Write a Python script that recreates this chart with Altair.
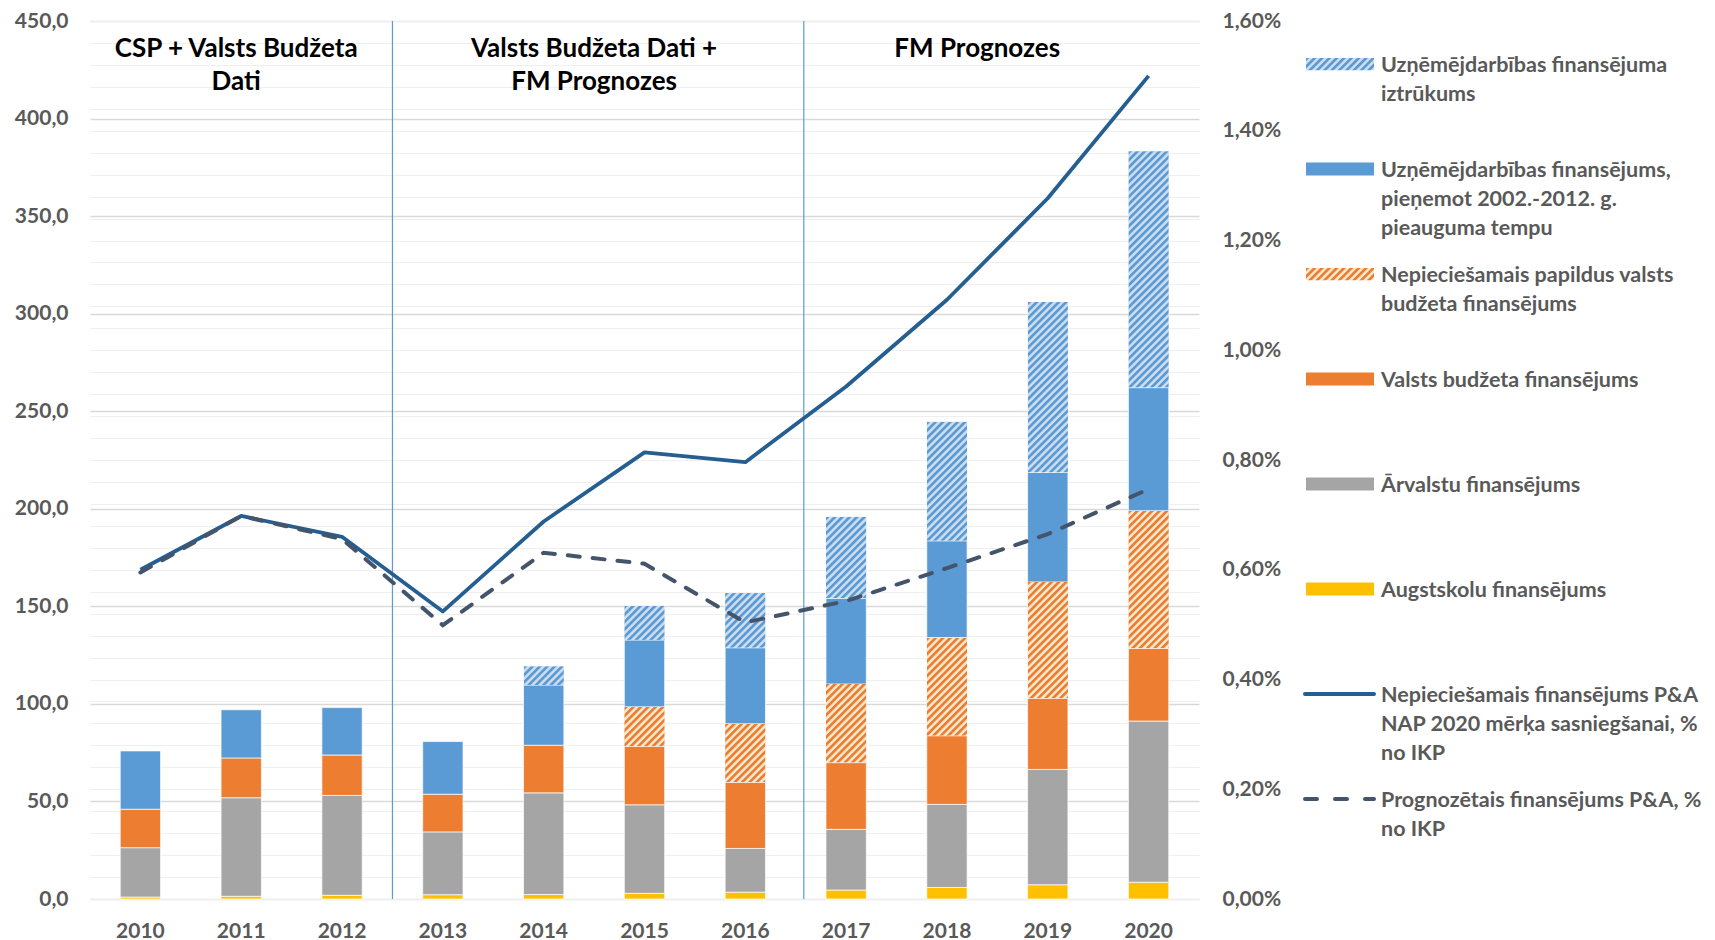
import base64
import altair as alt
import pandas as pd

# ---------------- data ----------------
years = ["2010", "2011", "2012", "2013", "2014", "2015", "2016", "2017", "2018", "2019", "2020"]

augstskolu = [1.0, 1.4, 1.9, 2.2, 2.3, 2.9, 3.5, 4.6, 5.9, 7.3, 8.6]
arvalstu = [25.3, 50.5, 51.2, 32.2, 52.1, 45.4, 22.4, 31.1, 42.6, 59.1, 82.6]
valsts = [19.7, 20.4, 20.7, 19.3, 24.4, 29.9, 33.9, 34.2, 35.2, 36.5, 37.3]
papildus = [0, 0, 0, 0, 0, 20.3, 30.0, 40.3, 50.3, 59.6, 70.5]
uznemejdarbiba = [29.9, 24.7, 24.3, 27.0, 30.9, 34.3, 39.0, 43.9, 49.6, 56.1, 63.1]
iztrukums = [0, 0, 0, 0, 9.6, 17.6, 28.0, 41.8, 61.1, 87.4, 121.2]

nepieciesamais_pct = [0.600, 0.698, 0.660, 0.524, 0.688, 0.814, 0.796, 0.934, 1.092, 1.277, 1.500]
prognozetais_pct = [0.595, 0.698, 0.656, 0.499, 0.631, 0.611, 0.504, 0.543, 0.603, 0.665, 0.747]

bar_series = [
    "Augstskolu finansējums",
    "Ārvalstu finansējums",
    "Valsts budžeta finansējums",
    "Nepieciešamais papildus valsts budžeta finansējums",
    "Uzņēmējdarbības finansējums, pieņemot 2002.-2012. g. pieauguma tempu",
    "Uzņēmējdarbības finansējuma iztrūkums",
]
bar_values = [augstskolu, arvalstu, valsts, papildus, uznemejdarbiba, iztrukums]
line_series = [
    "Nepieciešamais finansējums P&A NAP 2020 mērķa sasniegšanai, % no IKP",
    "Prognozētais finansējums P&A, % no IKP",
]

legend_series = [bar_series[5], bar_series[4], bar_series[3], bar_series[2],
                 bar_series[1], bar_series[0], line_series[0], line_series[1]]
legend_labels = [
    "Uzņēmējdarbības finansējuma\niztrūkums",
    "Uzņēmējdarbības finansējums,\npieņemot 2002.-2012. g.\npieauguma tempu",
    "Nepieciešamais papildus valsts\nbudžeta finansējums",
    "Valsts budžeta finansējums",
    "Ārvalstu finansējums",
    "Augstskolu finansējums",
    "Nepieciešamais finansējums P&A\nNAP 2020 mērķa sasniegšanai, %\nno IKP",
    "Prognozētais finansējums P&A, %\nno IKP",
]
legend_kinds = ["hatch", "solid", "hatch", "solid", "solid", "solid", "line", "dash"]

section_labels = ["CSP + Valsts Budžeta\nDati", "Valsts Budžeta Dati +\nFM Prognozes", "FM Prognozes"]
section_years = ["2011", "2015", "2018"]
separator_years = ["2013", "2017"]

# ---------------- styles ----------------
bar_colors = ["#ffc000", "#a5a5a5", "#ed7d31", "#f4b183", "#5b9bd5", "#a9c8e8"]
FONT = "Lato"
LABEL_COLOR = "#595959"
AXIS_FS = 21


def hatch_uri(dark, light):
    svg = (
        "<svg xmlns='http://www.w3.org/2000/svg' width='100%' height='100%'>"
        "<defs><pattern id='h' width='5.2' height='5.2' patternUnits='userSpaceOnUse' "
        "patternTransform='rotate(45)'>"
        f"<rect width='5.2' height='5.2' fill='{light}'/>"
        f"<rect width='2.7' height='5.2' fill='{dark}'/>"
        "</pattern></defs><rect width='100%' height='100%' fill='url(#h)'/></svg>"
    )
    return "data:image/svg+xml;base64," + base64.b64encode(svg.encode("utf-8")).decode("ascii")


hatch_urls = {
    bar_series[3]: hatch_uri("#ed7d31", "#f3ead0"),
    bar_series[5]: hatch_uri("#5b9bd5", "#cfdeee"),
}

# ---------------- tables ----------------
rows = []
for order, (name, vals) in enumerate(zip(bar_series, bar_values)):
    for yr, v in zip(years, vals):
        rows.append({"year": yr, "series": name, "value": v, "order": order,
                     "url": hatch_urls.get(name, "")})
bars_df = pd.DataFrame(rows)

lines_df = pd.DataFrame({"year": years, "need": nepieciesamais_pct, "forecast": prognozetais_pct})

legend_df = pd.DataFrame({
    "series": legend_series,
    "label": legend_labels,
    "idx": list(range(len(legend_series))),
    "kind": legend_kinds,
    "url": [hatch_urls.get(s, "") for s in legend_series],
})

# ---------------- scales / axes ----------------
x_scale = alt.Scale(paddingInner=0, paddingOuter=0)
x_axis = alt.Axis(title=None, labelAngle=0, domain=False, ticks=False, tickSize=0, labelPadding=21,
                  labelFont=FONT, labelFontSize=AXIS_FS, labelFontWeight="bold", labelColor=LABEL_COLOR,
                  grid=False)
left_scale = alt.Scale(domain=[0, 450], nice=False, zero=True)
left_axis = alt.Axis(title=None, values=list(range(0, 451, 50)), domain=False, ticks=False, tickSize=0,
                     labelPadding=22, labelFont=FONT, labelFontSize=AXIS_FS, labelFontWeight="bold",
                     labelColor=LABEL_COLOR, grid=True, gridColor="#d9d9d9", gridWidth=1.3,
                     labelExpr="replace(format(datum.value, '.1f'), '.', ',')", orient="left")
right_scale = alt.Scale(domain=[0, 1.6], nice=False, zero=True)
right_axis = alt.Axis(title=None, values=[round(i * 0.04, 2) for i in range(41)], domain=False,
                      ticks=False, tickSize=0, labelPadding=23, labelFont=FONT, labelFontSize=AXIS_FS,
                      labelFontWeight="bold", labelColor=LABEL_COLOR, grid=True, gridColor="#efefef",
                      gridWidth=1, labelOverlap=False, labelBound=False, orient="right",
                      labelExpr="round(datum.value*100) % 20 == 0 ? replace(format(datum.value, '.2f'), '.', ',') + '%' : ''")
color_scale = alt.Scale(domain=bar_series, range=bar_colors)
legend_band = alt.Scale(type="band", domain=list(range(len(legend_series))), range=[-9.5, 830.5],
                        paddingInner=0, paddingOuter=0)

# ---------------- layers ----------------
stacked = (
    alt.Chart(bars_df)
    .transform_filter("datum.value > 0")
    .transform_stack(stack="value", groupby=["year"], as_=["v0", "v1"],
                     sort=[alt.SortField("order", order="ascending")])
)

bars = stacked.mark_bar(width=alt.RelativeBandSize(0.4), stroke="white", strokeWidth=0.7).encode(
    x=alt.X("year:O", scale=x_scale, axis=x_axis),
    y=alt.Y("v0:Q", scale=left_scale, axis=left_axis),
    y2="v1:Q",
    color=alt.Color("series:N", scale=color_scale, legend=None),
)

hatches = (
    stacked.transform_filter(alt.FieldOneOfPredicate(field="series", oneOf=[bar_series[3], bar_series[5]]))
    .mark_image(width=alt.RelativeBandSize(0.4), aspect=False)
    .encode(
        x=alt.X("year:O"),
        y=alt.Y("v0:Q", scale=left_scale, axis=None),
        y2="v1:Q",
        url="url:N",
    )
)

separators = [
    alt.Chart(pd.DataFrame({"year": [separator_years[0]]})).mark_rule(color="#5b9bd5", strokeWidth=1.2)
    .encode(x=alt.X("year:O", bandPosition=0)),
    alt.Chart(pd.DataFrame({"year": [separator_years[1]]})).mark_rule(color="#5b9bd5", strokeWidth=1.2)
    .encode(x=alt.X("year:O", bandPosition=0.08)),
]

line_need = alt.Chart(lines_df).mark_line(color="#255e91", strokeWidth=3.8, strokeJoin="round").encode(
    x=alt.X("year:O"),
    y=alt.Y("need:Q", scale=right_scale, axis=right_axis),
)
line_forecast = alt.Chart(lines_df).mark_line(color="#44546a", strokeWidth=4, strokeDash=[12, 13],
                                              strokeCap="round").encode(
    x=alt.X("year:O"),
    y=alt.Y("forecast:Q", scale=right_scale, axis=None),
)

section_band_pos = [0.45, 0.0, 0.8]
sections = []
for lab, yr, bp in zip(section_labels, section_years, section_band_pos):
    sections.append(
        alt.Chart(pd.DataFrame({"year": [yr], "label": [lab]}))
        .mark_text(font=FONT, fontSize=26, fontWeight="bold", color="#000000", lineBreak="\n",
                   lineHeight=33, align="center", baseline="alphabetic")
        .encode(x=alt.X("year:O", bandPosition=bp), y=alt.value(36), text="label:N")
    )

legend_base = alt.Chart(legend_df)
leg_solid = legend_base.transform_filter("datum.kind == 'solid'").mark_rule(strokeWidth=13, strokeCap="butt").encode(
    x=alt.value(1216), x2=alt.value(1284),
    y=alt.Y("idx:O", scale=legend_band, axis=None, bandPosition=0.5),
    color=alt.Color("series:N", scale=color_scale, legend=None),
)
leg_hatch = legend_base.transform_filter("datum.kind == 'hatch'").mark_image(height=13, aspect=False).encode(
    x=alt.value(1216), x2=alt.value(1284),
    y=alt.Y("idx:O", scale=legend_band, axis=None),
    url="url:N",
)
leg_line = legend_base.transform_filter("datum.kind == 'line'").mark_rule(
    strokeWidth=4, color="#255e91", strokeCap="round").encode(
    x=alt.value(1215), x2=alt.value(1284),
    y=alt.Y("idx:O", scale=legend_band, axis=None, bandPosition=0.5),
)
leg_dash = legend_base.transform_filter("datum.kind == 'dash'").mark_rule(
    strokeWidth=4, color="#44546a", strokeCap="round", strokeDash=[12, 18]).encode(
    x=alt.value(1215), x2=alt.value(1284),
    y=alt.Y("idx:O", scale=legend_band, axis=None, bandPosition=0.5),
)
leg_text = legend_base.mark_text(align="left", baseline="alphabetic", dy=7.5, lineBreak="\n", lineHeight=29,
                                 font=FONT, fontSize=21.5, fontWeight="bold", color=LABEL_COLOR).encode(
    x=alt.value(1291),
    y=alt.Y("idx:O", scale=legend_band, axis=None, bandPosition=0.5),
    text="label:N",
)

chart = (
    alt.layer(bars, hatches, *separators, line_need, line_forecast, *sections,
              leg_solid, leg_hatch, leg_line, leg_dash, leg_text)
    .resolve_scale(y="independent")
    .properties(width=1109, height=878, padding={"left": 6, "top": 2, "right": 0, "bottom": 0},
                background="white")
    .configure_view(stroke=None)
)

chart.save("out.html", embed_options={"renderer": "svg", "actions": False})
